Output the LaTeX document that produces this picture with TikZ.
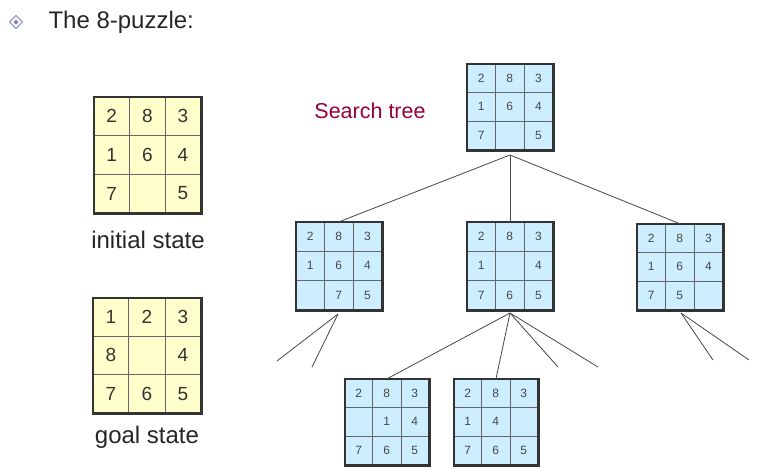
\documentclass[tikz,border=0pt]{standalone}
\usepackage{fontspec}
\setmainfont{Liberation Sans}
\usetikzlibrary{calc,positioning}
\definecolor{tileyellow}{HTML}{FFFFCC}
\definecolor{tileblue}{HTML}{CCEEFF}
\definecolor{treered}{HTML}{990033}
\definecolor{bulletblue}{HTML}{8080C8}
\definecolor{inkgray}{HTML}{333333}

% one 8-puzzle board: name, x, y, width, height, look, entries
\newcommand{\board}[7]{%
  \node[inner sep=0pt,minimum width=#4pt,minimum height=#5pt,fill=tile#6] (#1) at (#2,#3) {};
  \foreach \i in {1,2}{
    \draw[gridline] ($(#1.north west)!\i/3!(#1.north east)$) -- ($(#1.south west)!\i/3!(#1.south east)$);
    \draw[gridline] ($(#1.north west)!\i/3!(#1.south west)$) -- ($(#1.north east)!\i/3!(#1.south east)$);
  }
  \draw[boardedge] (#1.north west) rectangle (#1.south east);
  \foreach \t [count=\k from 0] in {#7}{
    \pgfmathtruncatemacro\col{mod(\k,3)}
    \pgfmathtruncatemacro\row{\k/3}
    \node[num#6] (#1-\k) at ($(#1.north west)+({(\col+0.5)*#4/3},{(\row+0.5)*#5/3})$) {\t};
  }
}

\begin{document}
\begin{tikzpicture}[x=1pt,y=-1pt,
  gridline/.style={draw=gray!80!black,line width=0.9pt},
  boardedge/.style={draw=inkgray,line width=2.6pt},
  numyellow/.style={font=\fontsize{19}{19}\selectfont,text=inkgray},
  numblue/.style={font=\fontsize{12}{12}\selectfont,text=inkgray!90},
  branch/.style={draw=inkgray!90,line width=0.8pt},
  caption/.style={font=\fontsize{24}{24}\selectfont,text=black!85}]
  \useasboundingbox (0,0) rectangle (771,475);

  % heading
  \draw[bulletblue,line width=1pt] (16,15.5) -- (22.5,22) -- (16,28.5) -- (9.5,22) -- cycle;
  \fill[bulletblue] (16,19.5) -- (18.5,22) -- (16,24.5) -- (13.5,22) -- cycle;
  \node[anchor=west,font=\fontsize{24}{24}\selectfont,text=black!85] (title) at (45,22) {The 8-puzzle:};

  % start and goal
  \board{init}{147.5}{155}{107}{116}{yellow}{2,8,3,1,6,4,7,{},5}
  \node[caption] (initlbl) at (148,240) {initial state};
  \board{goal}{147}{355.5}{108}{115}{yellow}{1,2,3,8,{},4,7,6,5}
  \node[caption] (goallbl) at (147,437) {goal state};

  % search tree
  \node[font=\fontsize{21.5}{21.5}\selectfont,text=treered] (treelbl) at (370,111) {Search tree};
  \board{root}{510}{107}{86}{86}{blue}{2,8,3,1,6,4,7,{},5}
  \board{ml}{339}{266}{86}{88}{blue}{2,8,3,1,6,4,{},7,5}
  \board{mm}{510}{266}{86}{88}{blue}{2,8,3,1,{},4,7,6,5}
  \board{mr}{680}{267}{86}{86}{blue}{2,8,3,1,6,4,7,5,{}}
  \board{bl}{387}{422}{84}{86}{blue}{2,8,3,{},1,4,7,6,5}
  \board{br}{496}{422}{84}{86}{blue}{2,8,3,1,4,{},7,6,5}

  \coordinate (rootfork) at (510,155);
  \coordinate (mlfork) at (338,314);
  \coordinate (mmfork) at (510,313);
  \coordinate (mrfork) at (681,313);
  \coordinate (mlend1) at (277,361);
  \coordinate (mlend2) at (312,367);
  \coordinate (mmend1) at (558,367);
  \coordinate (mmend2) at (598,367);
  \coordinate (mrend1) at (713,360);
  \coordinate (mrend2) at (749,360);

  \foreach \c in {ml,mm,mr}
    \draw[branch] (rootfork) -- (\c.north);
  \draw[branch] (mmfork) -- (bl.north);
  \draw[branch] (mmfork) -- (br.north);
  \foreach \p/\e in {ml/mlend1,ml/mlend2,mm/mmend1,mm/mmend2,mr/mrend1,mr/mrend2}
    \draw[branch] (\p fork) -- (\e);
\end{tikzpicture}
\end{document}
